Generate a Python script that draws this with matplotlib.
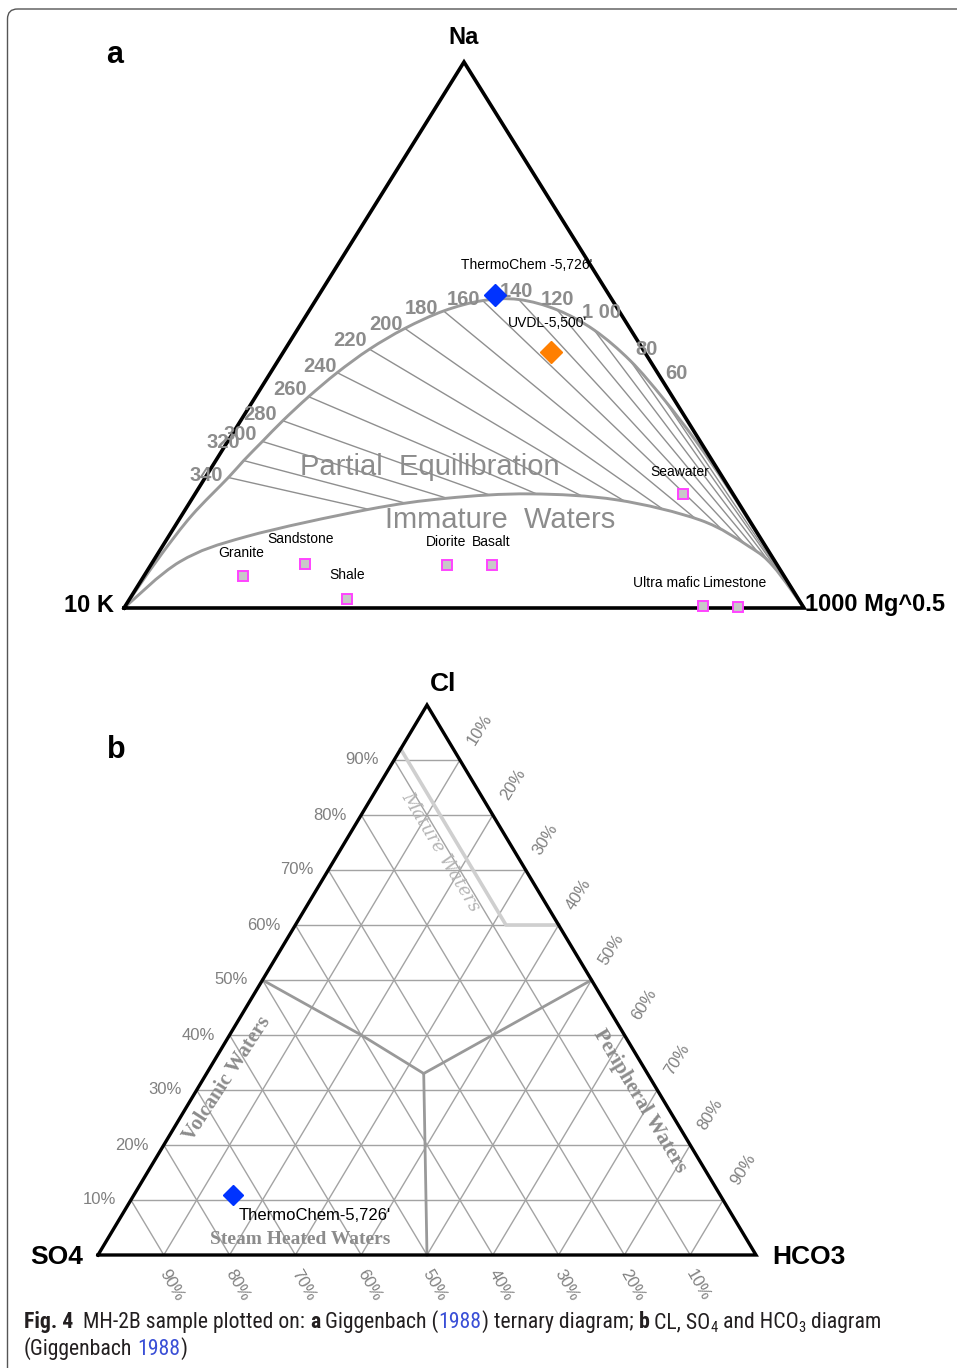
import numpy as np
import matplotlib
matplotlib.use("Agg")
import matplotlib.pyplot as plt
from matplotlib.path import Path
from matplotlib.transforms import Affine2D
from matplotlib.patches import FancyBboxPatch, PathPatch
from matplotlib import font_manager

# ---------------- DATA : panel a (Giggenbach Na/1000 - K/100 - sqrt(Mg), %) ----------
sample_names = ["ThermoChem -5,726'", "UVDL-5,500'"]
sample_na = [57.3, 46.9]
sample_k = [16.8, 13.8]
sample_mg = [25.9, 39.3]
sample_colors = ["#0033ff", "#ff7f00"]

rock_names = ["Granite", "Sandstone", "Shale", "Diorite", "Basalt", "Seawater",
              "Ultra mafic", "Limestone"]
rock_na = [5.9, 8.1, 1.6, 7.9, 7.9, 20.9, 0.4, 0.2]
rock_k = [79.6, 69.4, 66.4, 48.6, 41.9, 7.4, 14.7, 9.6]
rock_mg = [14.5, 22.5, 32.0, 43.5, 50.2, 71.7, 84.9, 90.2]

iso_labels = ["340", "320", "300", "280", "260", "240", "220", "200", "180",
              "160", "140", "120", "1 00", "80", "60"]
iso_na = [23.9, 27.0, 30.5, 34.3, 38.7, 43.1, 47.4, 51.2, 54.4, 56.3, 56.5,
          54.6, 50.9, 45.3, 38.3]
iso_mg = [3.4, 4.1, 5.1, 6.2, 7.8, 9.8, 12.4, 15.7, 19.8, 24.6, 29.8, 36.4,
          43.7, 51.8, 60.2]

# full-equilibrium curve beyond the labelled isotherms
fe_head_na = [0.0, 4.0, 10.0, 17.0]
fe_head_mg = [0.0, 0.2, 0.6, 1.5]
fe_tail_na = [30.6, 22.8, 15.6, 0.0]
fe_tail_mg = [68.8, 77.0, 84.3, 100.0]

# immature-waters curve
im_na = [0.0, 8.5, 13.1, 18.0, 20.1, 20.9, 19.8, 16.1, 11.2, 7.6, 0.0]
im_mg = [0.0, 4.0, 11.5, 26.7, 37.4, 49.3, 62.6, 76.7, 86.4, 91.7, 100.0]

# ---------------- DATA : panel b (Cl - SO4 - HCO3, %) ----------------
grid_levels = [10, 20, 30, 40, 50, 60, 70, 80, 90]
pct_labels = ["10%", "20%", "30%", "40%", "50%", "60%", "70%", "80%", "90%"]

mature_cl = [92, 60, 60]
mature_hco3 = [0, 32, 40]
volcanic_cl = [50, 40, 33]
volcanic_hco3 = [0, 20, 33]
peripheral_cl = [50, 40, 33]
peripheral_hco3 = [50, 40, 33]
steam_cl = [33, 0]
steam_hco3 = [33, 50]

b_sample_name = "ThermoChem-5,726'"
b_sample_cl = [11]
b_sample_so4 = [74]
b_sample_hco3 = [15]

# ---------------- figure ----------------
W, H = 957, 1368
fig = plt.figure(figsize=(W / 100, H / 100), dpi=100)
ax = fig.add_axes([0, 0, 1, 1])
ax.set_xlim(0, W)
ax.set_ylim(H, 0)
ax.set_autoscale_on(False)
ax.axis("off")

SANS = "Liberation Sans"
SERIF = "Liberation Serif"

# ternary -> page transforms (affine)
Ta = Affine2D.from_values(680, 0, 340, -546, 124, 608) + ax.transData   # (mg, na)
Tb = Affine2D.from_values(658, 0, 329, -550, 98, 1255) + ax.transData   # (hco3, cl)


def frac(v):
    return np.asarray(v, dtype=float) / 100.0


def smooth_path(xs, ys):
    P = np.column_stack([xs, ys])
    n = len(P)
    verts = [P[0]]
    codes = [Path.MOVETO]
    for i in range(n - 1):
        p0 = P[i - 1] if i > 0 else P[i]
        p1, p2 = P[i], P[i + 1]
        p3 = P[i + 2] if i + 2 < n else P[i + 1]
        verts += [p1 + (p2 - p0) / 6.0, p2 - (p3 - p1) / 6.0, p2]
        codes += [Path.CURVE4] * 3
    return verts, codes


# ---- border ----
ax.add_patch(FancyBboxPatch((7.5, 9), 1100, 1500,
                            boxstyle="round,pad=0,rounding_size=10",
                            fc="none", ec="#555555", lw=1.0))

# ================= PANEL A =================
GRAY_C = "#9a9a9a"
# full equilibrium curve
fe_na = fe_head_na + iso_na + fe_tail_na
fe_mg = fe_head_mg + iso_mg + fe_tail_mg
v, c = smooth_path(frac(fe_mg), frac(fe_na))
ax.add_patch(PathPatch(Path(v, c), transform=Ta, fill=False, ec=GRAY_C, lw=2.1, zorder=3))

# immature curve
v_im, c_im = smooth_path(frac(im_mg), frac(im_na))
ax.add_patch(PathPatch(Path(v_im, c_im), transform=Ta, fill=False, ec=GRAY_C, lw=2.1, zorder=3))

# clip region above immature curve
clip_v = list(v_im) + [np.array([0.0, 1.0]), np.array([0.0, 0.0])]
clip_c = list(c_im) + [Path.LINETO, Path.CLOSEPOLY]
clip_path = Path(clip_v, clip_c)

# isotherms toward Mg vertex
for na_i, mg_i in zip(frac(iso_na), frac(iso_mg)):
    ln, = ax.plot([mg_i, 1.0], [na_i, 0.0], transform=Ta, color="#8f8f8f", lw=1.0, zorder=2)
    ln.set_clip_path(clip_path, Ta)

# triangle
ax.plot([0, 1, 0, 0], [0, 0, 1, 0], transform=Ta, color="black", lw=2.6,
        solid_joinstyle="miter", zorder=4)

# isotherm labels (offsets in pixels)
iso_off = [(-21.7, 2.5), (-20.7, 17.6), (-22.4, 6.5), (-22.8, 6.7), (-18.6, 6.7),
           (-17.1, 5.7), (-19.5, 8.5), (-18.9, 4.4), (-21.9, 2.0), (-19.4, 1.6),
           (-2.0, 7.8), (0.0, 10.6), (7.4, 17.4), (16.5, 11.4), (12.4, 24.9)]
for lab, na_i, mg_i, off in zip(iso_labels, frac(iso_na), frac(iso_mg), iso_off):
    ax.annotate(lab, (mg_i, na_i), xycoords=Ta, xytext=off, textcoords="offset pixels",
                ha="center", va="center", fontsize=14.5, fontweight="bold",
                color="#8c8c8c", family=SANS, zorder=5)

ax.text(430, 467, "Partial  Equilibration", ha="center", va="center", fontsize=21,
        color="#8c8c8c", family=SANS, zorder=5)
ax.text(500, 520, "Immature  Waters", ha="center", va="center", fontsize=21,
        color="#8c8c8c", family=SANS, zorder=5)

# rock squares
rock_off = [(-1, 23), (-4, 25), (0, 24), (-1, 23), (-1.5, 23), (-3, 22), (-36, 23), (-3, 24)]
rna, rk, rmg = frac(rock_na), frac(rock_k), frac(rock_mg)
tot = rna + rk + rmg
ax.plot(rmg / tot, rna / tot, "s", transform=Ta, ms=7.3, mfc="#c8c8c8", mec="#ff44ff",
        mew=1.4, ls="none", zorder=6)
for name, x, y, off in zip(rock_names, rmg / tot, rna / tot, rock_off):
    ax.annotate(name, (x, y), xycoords=Ta, xytext=off, textcoords="offset pixels",
                ha="center", va="center", fontsize=10, color="black", family=SANS, zorder=7)

# samples
sna, sk, smg = frac(sample_na), frac(sample_k), frac(sample_mg)
stot = sna + sk + smg
sample_off = [(32, 30), (-3, 29)]
for name, x, y, col, off in zip(sample_names, smg / stot, sna / stot, sample_colors, sample_off):
    ax.plot([x], [y], "D", transform=Ta, ms=11.5, color=col, mec=col, zorder=8)
    ax.annotate(name, (x, y), xycoords=Ta, xytext=off, textcoords="offset pixels",
                ha="center", va="center", fontsize=10, color="black", family=SANS, zorder=9)

# vertex labels
ax.text(464, 38, "Na", ha="center", va="center", fontsize=17, fontweight="bold", family=SANS)
ax.text(89, 606, "10 K", ha="center", va="center", fontsize=17, fontweight="bold", family=SANS)
ax.text(875, 604, "1000 Mg^0.5", ha="center", va="center", fontsize=17, fontweight="bold", family=SANS)
ax.text(115, 55, "a", ha="center", va="center", fontsize=22, fontweight="bold", family=SANS)

# ================= PANEL B =================
GRID = "#a3a3a3"
for p in frac(grid_levels):
    ax.plot([0, 1 - p], [p, p], transform=Tb, color=GRID, lw=1.0, zorder=2)
    ax.plot([p, p], [0, 1 - p], transform=Tb, color=GRID, lw=1.0, zorder=2)
    ax.plot([1 - p, 0], [0, 1 - p], transform=Tb, color=GRID, lw=1.0, zorder=2)

# field boundaries
ax.plot(frac(mature_hco3), frac(mature_cl), transform=Tb, color="#cfcfcf", lw=2.6, zorder=3)
for hh, cc in [(volcanic_hco3, volcanic_cl), (peripheral_hco3, peripheral_cl),
               (steam_hco3, steam_cl)]:
    ax.plot(frac(hh), frac(cc), transform=Tb, color="#999999", lw=2.0, zorder=3)

# triangle
ax.plot([0, 1, 0, 0], [0, 0, 1, 0], transform=Tb, color="black", lw=2.4,
        solid_joinstyle="miter", zorder=4)

# axis labels
for p, lab in zip(frac(grid_levels), pct_labels):
    ax.annotate(lab, (0, p), xycoords=Tb, xytext=(-15, 0), textcoords="offset pixels",
                ha="right", va="center", fontsize=12, color="#808080", family=SANS)
    ax.annotate(lab, (p, 1 - p), xycoords=Tb, xytext=(20, 31), textcoords="offset pixels",
                ha="center", va="center", fontsize=12, color="#808080", family=SANS,
                rotation=58)
    ax.annotate(lab, (1 - p, 0), xycoords=Tb, xytext=(8, -30), textcoords="offset pixels",
                ha="center", va="center", fontsize=12, color="#808080", family=SANS,
                rotation=-60)

# field names
ax.text(441, 852, "Mature Waters", ha="center", va="center", rotation=-59, fontsize=13,
        style="italic", color="#b5b5b5", family="DejaVu Serif", zorder=5)
ax.text(227, 1079, "Volcanic Waters", ha="center", va="center", rotation=57, fontsize=15,
        fontweight="bold", color="#8c8c8c", family=SERIF, zorder=5)
ax.text(640, 1101, "Peripheral Waters", ha="center", va="center", rotation=-59, fontsize=15,
        fontweight="bold", color="#8c8c8c", family=SERIF, zorder=5)
ax.text(300, 1239, "Steam Heated Waters", ha="center", va="center", fontsize=14,
        fontweight="bold", color="#8c8c8c", family=SERIF, zorder=5)

# sample
ax.plot(frac(b_sample_hco3), frac(b_sample_cl), "D", transform=Tb, ms=10, color="#0033ff",
        zorder=8)
ax.annotate(b_sample_name, (frac(b_sample_hco3)[0], frac(b_sample_cl)[0]), xycoords=Tb,
            xytext=(6, -21), textcoords="offset pixels", ha="left", va="center",
            fontsize=12, color="black", family=SANS, zorder=9)

ax.text(443, 684, "Cl", ha="center", va="center", fontsize=19, fontweight="bold", family=SANS)
ax.text(57, 1257, "SO4", ha="center", va="center", fontsize=19, fontweight="bold", family=SANS)
ax.text(809, 1257, "HCO3", ha="center", va="center", fontsize=19, fontweight="bold", family=SANS)
ax.text(116, 750, "b", ha="center", va="center", fontsize=22, fontweight="bold", family=SANS)

# ================= CAPTION =================
names = {f.name for f in font_manager.fontManager.ttflist}
cap_font = next((f for f in ["Liberation Sans Narrow", "Roboto Condensed",
                             "Open Sans Condensed", "Noto Sans", "DejaVu Sans"] if f in names),
                "DejaVu Sans")
renderer = fig.canvas.get_renderer()
TXT = "#231f20"
BLUE = "#3a4fd6"


def text_w(s, **kw):
    t = ax.text(0, 0, s, **kw)
    w = t.get_window_extent(renderer).width
    t.remove()
    return w


def runs_draw(x, y, runs, size, draw=True):
    for s, st in runs:
        kw = dict(family=cap_font, fontsize=size * st.get("scale", 1.0),
                  fontweight=st.get("weight", "normal"), color=st.get("color", TXT))
        sp = text_w("a a", **kw) - text_w("aa", **kw)
        lead = len(s) - len(s.lstrip(" "))
        trail = len(s) - len(s.rstrip(" "))
        core = s.strip(" ")
        x += lead * sp
        if core:
            if draw:
                ax.text(x, y + st.get("dy", 0), core, ha="left", va="baseline", **kw)
            x += text_w(core, **kw)
        x += trail * sp
    return x


R = {}
B = {"weight": "bold"}
BL = {"color": BLUE}
SUB = {"scale": 0.68, "dy": 4}
line1 = [("Fig. 4", B), ("  MH-2B sample plotted on: ", R), ("a", B), (" Giggenbach (", R),
         ("1988", BL), (") ternary diagram; ", R), ("b", B), (" CL, SO", R), ("4", SUB),
         (" and HCO", R), ("3", SUB), (" diagram", R)]
line2 = [("(Giggenbach ", R), ("1988", BL), (")", R)]

size0 = 15.0
w0 = runs_draw(24, 1328, line1, size0, draw=False) - 24
size = size0 * 858.0 / w0
runs_draw(24, 1328, line1, size)
runs_draw(24, 1355, line2, size)

fig.savefig("out.png", dpi=100)
